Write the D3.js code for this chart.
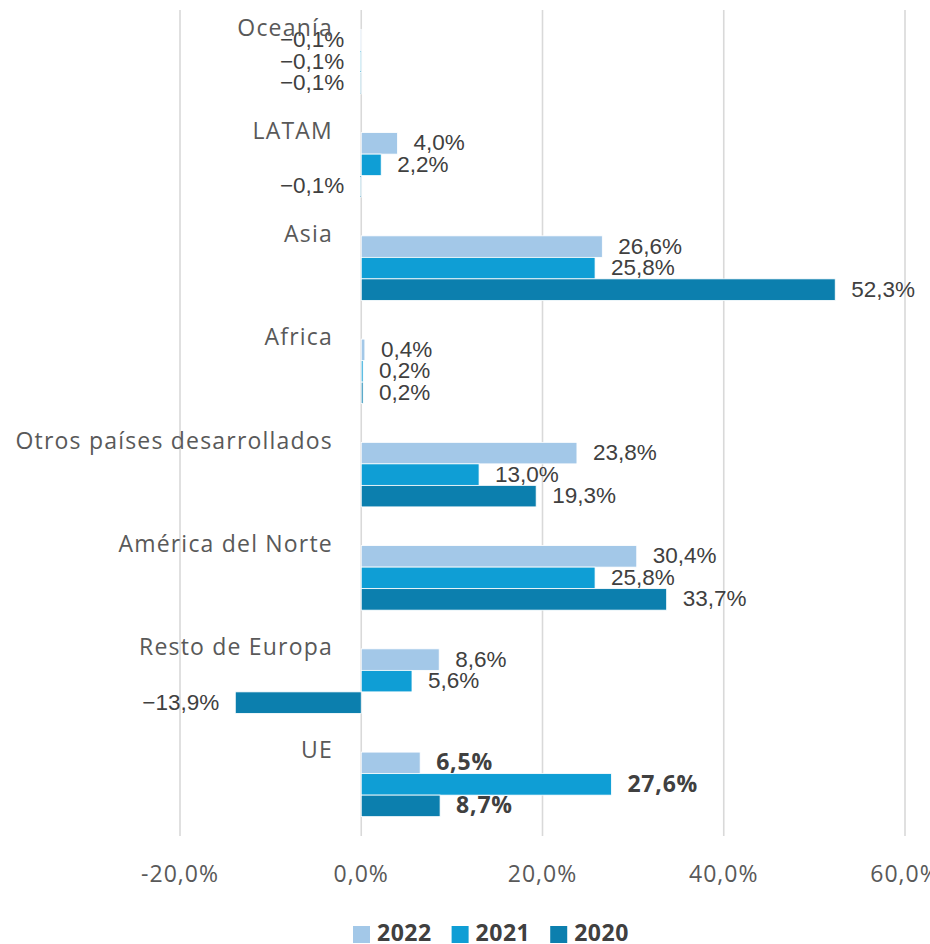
<!DOCTYPE html>
<html>
<head>
<meta charset="utf-8">
<script src="https://cdn.jsdelivr.net/npm/d3@7"></script>
<style>
  body { margin: 0; background: #fff; }
  svg { display: block; }
</style>
</head>
<body>
<svg id="chart" width="930" height="944"></svg>
<script>
// data, top to bottom
var regions = ["Oceanía", "LATAM", "Asia", "Africa", "Otros países desarrollados", "América del Norte", "Resto de Europa", "UE"];
var years = ["2022", "2021", "2020"];
var v2022 = [-0.1, 4.0, 26.6, 0.4, 23.8, 30.4, 8.6, 6.5];
var v2021 = [-0.1, 2.2, 25.8, 0.2, 13.0, 25.8, 5.6, 27.6];
var v2020 = [-0.1, -0.1, 52.3, 0.2, 19.3, 33.7, -13.9, 8.7];
var ticks = [-20, 0, 20, 40, 60];
var colors = ["#A3C8E8", "#0F9ED5", "#0C7FAE"];

var labelFont = "'Open Sans', sans-serif";
var numFont = "'Liberation Sans', Arial, sans-serif";

var svg = d3.select("#chart");

var x = d3.scaleLinear().domain([-20, 60]).range([180, 905]);
var y = d3.scaleBand().domain(regions).range([10, 836])
  .paddingInner(0.375).paddingOuter(0.1875);
var y1 = d3.scaleBand().domain(years).range([0, y.bandwidth()]);
var color = d3.scaleOrdinal().domain(years).range(colors);

var rows = regions.map(function (r, i) {
  return { region: r, values: [
    { year: "2022", value: v2022[i] },
    { year: "2021", value: v2021[i] },
    { year: "2020", value: v2020[i] }
  ] };
});

function fmt(v) {
  var s = Math.abs(v).toFixed(1).replace(".", ",") + "%";
  return v < 0 ? "\u2212" + s : s;
}

// gridlines
svg.append("g")
  .selectAll("line")
  .data(ticks)
  .join("line")
  .attr("x1", d => x(d)).attr("x2", d => x(d))
  .attr("y1", 10).attr("y2", 836)
  .attr("stroke", "#D9D9D9")
  .attr("stroke-width", 1.6);

// x axis tick labels
svg.append("g")
  .selectAll("text")
  .data(ticks)
  .join("text")
  .attr("x", d => x(d))
  .attr("y", 876)
  .attr("text-anchor", "middle")
  .attr("dominant-baseline", "middle")
  .attr("font-family", labelFont)
  .attr("font-size", "23px")
  .attr("letter-spacing", "1px")
  .attr("fill", "#595959")
  .text(d => fmt(d).replace("\u2212", "-"));

var groups = svg.append("g")
  .selectAll("g")
  .data(rows)
  .join("g")
  .attr("transform", d => `translate(0,${y(d.region)})`);

groups.selectAll("rect")
  .data(d => d.values)
  .join("rect")
  .attr("x", d => x(Math.min(0, d.value)))
  .attr("y", d => y1(d.year))
  .attr("width", d => Math.max(1, Math.abs(x(d.value) - x(0))))
  .attr("height", y1.bandwidth())
  .attr("fill", d => color(d.year))
  .attr("stroke", "#fff")
  .attr("stroke-width", 0.8);

groups.selectAll("text.val")
  .data(d => d.values.map(v => Object.assign({ region: d.region }, v)))
  .join("text")
  .attr("class", "val")
  .attr("x", d => d.value < 0 ? x(d.value) - 16 : x(d.value) + 16)
  .attr("y", d => y1(d.year) + y1.bandwidth() / 2 + 1)
  .attr("text-anchor", d => d.value < 0 ? "end" : "start")
  .attr("dominant-baseline", "middle")
  .attr("font-family", d => d.region == "UE" ? labelFont : numFont)
  .attr("font-weight", d => d.region == "UE" ? "bold" : "normal")
  .attr("font-size", d => d.region == "UE" ? "23px" : "22.5px")
  .attr("letter-spacing", d => d.region == "UE" ? "0.8px" : "0px")
  .attr("fill", "#404040")
  .text(d => fmt(d.value));

// category labels
svg.append("g")
  .selectAll("text")
  .data(regions)
  .join("text")
  .attr("x", 333)
  .attr("y", d => y(d))
  .attr("text-anchor", "end")
  .attr("dominant-baseline", "middle")
  .attr("font-family", labelFont)
  .attr("font-size", "23px")
  .attr("letter-spacing", "1.2px")
  .attr("fill", "#595959")
  .text(d => d);

// legend
var legend = svg.append("g");
var lx = 353;
years.forEach(function (yr) {
  legend.append("rect")
    .attr("x", lx).attr("y", 926)
    .attr("width", 17).attr("height", 17)
    .attr("fill", color(yr));
  var t = legend.append("text")
    .attr("x", lx + 24).attr("y", 935)
    .attr("dominant-baseline", "middle")
    .attr("font-family", labelFont)
    .attr("font-weight", "bold")
    .attr("font-size", "23px")
    .attr("letter-spacing", "0.5px")
    .attr("fill", "#404040")
    .text(yr);
  lx += 24 + t.node().getComputedTextLength() + 20;
});
</script>
</body>
</html>
